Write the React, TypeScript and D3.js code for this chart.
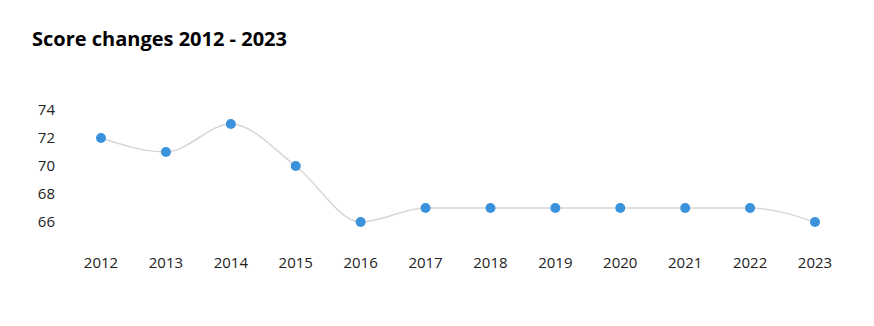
import React from "react";
import * as d3 from "d3";

const years = ["2012","2013","2014","2015","2016","2017","2018","2019","2020","2021","2022","2023"];
const scores = [72, 71, 73, 70, 66, 67, 67, 67, 67, 67, 67, 66];
const yTicks = [66, 68, 70, 72, 74];
const title = "Score changes 2012 - 2023";

export default function App() {
  const W = 874, H = 326;
  const x = d3.scalePoint<string>().domain(years).range([101, 815]);
  const y = d3.scaleLinear().domain([66, 74]).range([222, 110]);
  const line = d3.line<number>()
    .x((_, i) => x(years[i])!)
    .y((d) => y(d))
    .curve(d3.curveMonotoneX);
  const font = "'Open Sans', sans-serif";
  return (
    <svg width={W} height={H} style={{ position: "absolute", left: 0, top: 0, background: "#fff" }}>
      <text x={32} y={46} fontFamily={font} fontWeight={700} fontSize={20} fill="#000">{title}</text>
      {yTicks.map((t) => (
        <text key={t} x={55} y={y(t)} dy="0.35em" textAnchor="end" fontFamily={font} fontSize={15} fill="#222">{t}</text>
      ))}
      {years.map((yr) => (
        <text key={yr} x={x(yr)!} y={268} textAnchor="middle" fontFamily={font} fontSize={15} fill="#222">{yr}</text>
      ))}
      <path d={line(scores)!} fill="none" stroke="#d6d6d6" strokeWidth={1.5} />
      {scores.map((s, i) => (
        <circle key={i} cx={x(years[i])!} cy={y(s)} r={5} fill="#3a92dc" />
      ))}
    </svg>
  );
}
